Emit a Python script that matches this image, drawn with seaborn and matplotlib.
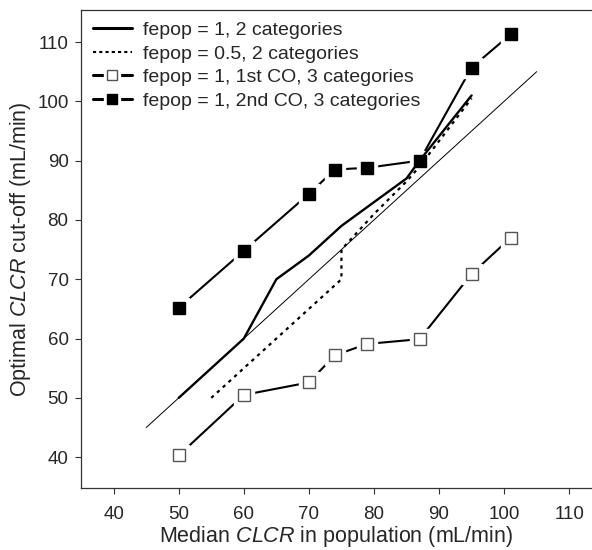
import matplotlib
matplotlib.use("Agg")
import matplotlib.pyplot as plt
from matplotlib.lines import Line2D
from matplotlib.legend_handler import HandlerTuple
import seaborn as sns
import pandas as pd

# ---- data ----
x_fepop1_2cat = [50, 60, 65, 70, 75, 80, 85, 87, 95]
y_fepop1_2cat = [50, 60, 70, 74, 79, 83, 87, 90, 101]

x_fepop05_2cat = [55, 75, 75, 80, 85, 87, 95]
y_fepop05_2cat = [50, 70, 75, 81, 86.5, 89, 100.5]

x_co = [50, 60, 70, 74, 79, 87, 95, 101]
y_1st_co = [40.3, 50.5, 52.6, 57.2, 59.1, 59.9, 70.9, 77.0]
y_2nd_co = [65.2, 74.8, 84.4, 88.5, 88.8, 90.0, 105.7, 111.3]

x_identity = [45, 105]
y_identity = [45, 105]

labels = ["fepop = 1, 2 categories", "fepop = 0.5, 2 categories",
          "fepop = 1, 1st CO, 3 categories", "fepop = 1, 2nd CO, 3 categories"]

sns.set_style("ticks")
plt.rcParams["font.family"] = ["Liberation Sans", "DejaVu Sans"]
plt.rcParams["mathtext.fontset"] = "custom"
plt.rcParams["mathtext.rm"] = "Liberation Sans"
plt.rcParams["mathtext.it"] = "Liberation Sans:italic"

fig = plt.figure(figsize=(5.92, 5.5), dpi=100)
ax = fig.add_axes([0.137, 0.1127, 0.863, 0.8691])

def line(x, y, **kw):
    df = pd.DataFrame({"x": x, "y": y})
    sns.lineplot(data=df, x="x", y="y", ax=ax, estimator=None, sort=False, **kw)

ms = 8.5
halo = ms + 6
# 1st CO (open squares)
line(x_co, y_1st_co, color="black", lw=1.5, zorder=2)
ax.plot(x_co, y_1st_co, ls="none", marker="s", ms=halo, mfc="white", mec="white", zorder=3)
ax.plot(x_co, y_1st_co, ls="none", marker="s", ms=ms, mfc="white", mec="#555555", mew=1.0, zorder=4)
# 2nd CO (filled squares)
line(x_co, y_2nd_co, color="black", lw=1.5, zorder=2)
ax.plot(x_co, y_2nd_co, ls="none", marker="s", ms=halo, mfc="white", mec="white", zorder=3)
ax.plot(x_co, y_2nd_co, ls="none", marker="s", ms=ms, mfc="black", mec="black", zorder=4)

# identity thin line
line(x_identity, y_identity, color="black", lw=0.7, zorder=5)
# fepop = 1, 2 categories
line(x_fepop1_2cat, y_fepop1_2cat, color="black", lw=1.7, zorder=6)
# fepop = 0.5, 2 categories
line(x_fepop05_2cat, y_fepop05_2cat, color="black", lw=1.6, ls=(0, (1.5, 2.0)), zorder=6)

ax.set_xlim(35, 113.5)
ax.set_ylim(34.8, 115.4)
ax.set_xticks([40, 50, 60, 70, 80, 90, 100, 110])
ax.set_yticks([40, 50, 60, 70, 80, 90, 100, 110])
ax.tick_params(axis="both", labelsize=13.5, length=4, width=0.8, color="#333333")
ax.tick_params(axis="x", pad=9)
ax.tick_params(axis="y", pad=5)
for s in ["left", "bottom", "top"]:
    ax.spines[s].set_color("#333333")
    ax.spines[s].set_linewidth(0.9)
ax.spines["right"].set_visible(False)

ax.set_xlabel("Median $\\mathit{CLCR}$ in population (mL/min)", fontsize=15.5, labelpad=1)
ax.set_ylabel("Optimal $\\mathit{CLCR}$ cut-off (mL/min)", fontsize=15.5, labelpad=3)

# legend
h1 = Line2D([], [], color="black", lw=2.2)
h2 = Line2D([], [], color="black", lw=1.5, ls=(0, (1.5, 1.5)))
hl = Line2D([], [], color="black", lw=2.2)
hw = Line2D([], [], ls="none", marker="s", ms=ms + 3, mfc="white", mec="white")
h3m = Line2D([], [], ls="none", marker="s", ms=ms - 1, mfc="white", mec="#555555", mew=1.0)
h4m = Line2D([], [], ls="none", marker="s", ms=ms - 1, mfc="black", mec="black")
leg = ax.legend([h1, h2, (hl, hw, h3m), (hl, hw, h4m)], labels,
                handler_map={tuple: HandlerTuple(ndivide=1)},
                loc="upper left", bbox_to_anchor=(0.0, 1.0), frameon=False,
                fontsize=14, handlelength=2.0, handletextpad=0.6, labelspacing=0.3,
                borderaxespad=0.2)

fig.savefig("out.png", dpi=100)
